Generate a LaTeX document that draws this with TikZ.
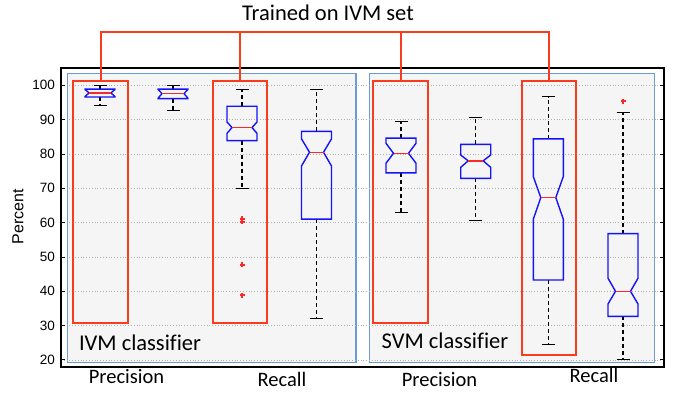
\documentclass[tikz,border=0pt]{standalone}
\usepackage{fontspec}
\setmainfont{Carlito}[Ligatures=NoCommon]
\newfontfamily\axisfont{Liberation Sans}
\usepackage{xcolor}
\usepackage{tikz}

\definecolor{boxblue}{RGB}{20,20,250}
\definecolor{medred}{RGB}{250,40,40}
\definecolor{hlred}{RGB}{250,60,30}
\definecolor{panelblue}{RGB}{105,155,215}
\definecolor{panelfill}{RGB}{245,245,245}

\begin{document}
\begin{tikzpicture}[
                        x=1pt, y=-1pt,
                        every node/.style={inner sep=0pt, outer sep=0pt},
                        redbox/.style={draw=hlred, line width=2pt, minimum width=54.6pt, anchor=north west},
                        bracket/.style={draw=hlred, line width=2pt},
                        panel/.style={draw=panelblue, fill=panelfill, line width=1.5pt},
                        grid/.style={gray!60, dotted, line width=0.8pt},
                        whisker/.style={black, line width=1.1pt, dash pattern=on 4pt off 3pt},
                        capline/.style={black, line width=1.1pt},
                        notched/.style={boxblue, line width=1.4pt, line join=miter},
                        median/.style={medred, line width=1.4pt},
                        bigtext/.style={font=\fontsize{22.5}{27}\selectfont},
                        xlabel/.style={font=\fontsize{20.5}{24}\selectfont, anchor=base},
                        ticklabel/.style={font=\axisfont\fontsize{13.5}{16}\selectfont, anchor=east},
                    ]

                    \useasboundingbox (0,0) rectangle (678,392);
                    \fill[white] (0,0) rectangle (678,392);

                    % the two classifier panels
                    \draw[panel] (67.7,73.3) rectangle (356,362.7);
                    \draw[panel] (369.3,73.3) rectangle (654.3,362.7);

                    \begin{scope}[yshift=-428.6pt, y=3.433pt]
                        \foreach \v in {20,30,...,100}{
                                \draw[grid] (61,\v) -- (664,\v);
                                \draw[line width=0.9pt] (61,\v) -- (65,\v);
                                \draw[line width=0.9pt] (664,\v) -- (660,\v);
                                \node[ticklabel] at (55,\v) {\axisfont\v};
                            }

                        \foreach \x/\wlo/\qlo/\nlo/\md/\nhi/\qhi/\whi/\d in {
                                100/94/96.6/96.7/97.8/98.8/98.9/100/4,
                                173/92.7/96.1/96.2/97.6/98.8/98.9/100/4,
                                242/70/83.9/86/87.7/89.3/93.9/98.9/5,
                                316.5/32.2/61/76.5/80.5/84.4/86.6/98.9/8,
                                401/62.9/74.5/77.3/80.2/83.1/84.6/89.4/7.5,
                                475.7/60.5/72.9/76.1/78/79.7/82.8/90.5/7.5,
                                548.3/24.4/43.3/61/67.3/73.4/84.4/96.7/7.5,
                                623/20.2/32.7/36.3/40/43.8/56.8/92.2/7.5}{
                                \draw[whisker] (\x,\qhi) -- (\x,\whi);
                                \draw[whisker] (\x,\qlo) -- (\x,\wlo);
                                \draw[capline] (\x-6.5,\whi) -- (\x+6.5,\whi);
                                \draw[capline] (\x-6.5,\wlo) -- (\x+6.5,\wlo);
                                \draw[notched] (\x-15,\qhi) -- (\x-15,\nhi) -- (\x-15+\d,\md) -- (\x-15,\nlo)
                                    -- (\x-15,\qlo) -- (\x+15,\qlo) -- (\x+15,\nlo) -- (\x+15-\d,\md)
                                    -- (\x+15,\nhi) -- (\x+15,\qhi) -- cycle;
                                \draw[median] (\x-15+\d,\md) -- (\x+15-\d,\md);
                            }

                        % outliers
                        \foreach \x/\v in {242/61.1, 242/60.2, 242/47.7, 242/38.9, 623/95.4}{
                                \draw[medred, line width=1.5pt] (\x,\v) +(-2.5pt,0) -- +(2.5pt,0) +(0,-2.5pt) -- +(0,2.5pt);
                            }
                    \end{scope}

                    % axes frame
                    \draw[line width=1.4pt] (61,68) rectangle (664,367);

                    \node[ticklabel, anchor=center, rotate=90, font=\axisfont\fontsize{16}{19}\selectfont] (ylab) at (18,216.5) {Percent};

                    % highlighted boxes
                    \node[redbox, minimum height=242.6pt] (ivmprec) at (73.3,80.7) {};
                    \node[redbox, minimum height=242.6pt] (ivmrec) at (212.7,80.7) {};
                    \node[redbox, minimum height=242.6pt] (svmprec) at (373.3,80.7) {};
                    \node[redbox, minimum height=274.3pt] (svmrec) at (521.7,80.7) {};

                    \coordinate (bar) at (0,32.3);
                    \draw[bracket] (ivmprec.north) |- (svmrec.north |- bar) -- (svmrec.north);
                    \draw[bracket] (ivmrec.north) -- (ivmrec.north |- bar);
                    \draw[bracket] (svmprec.north) -- (svmprec.north |- bar);

                    \node[bigtext, anchor=base] (title) at (328,20.7) {Trained on IVM set};
                    \node[bigtext, anchor=base west] (ivmlab) at (79,350) {IVM classifier};
                    \node[bigtext, anchor=base west] (svmlab) at (381.7,348.7) {SVM classifier};

                    \node[xlabel] (prec1) at (126.5,383.3) {Precision};
                    \node[xlabel] (rec1) at (282,386.7) {Recall};
                    \node[xlabel] (prec2) at (439.5,386) {Precision};
                    \node[xlabel] (rec2) at (594,382.7) {Recall};
                \end{tikzpicture}
\end{document}
